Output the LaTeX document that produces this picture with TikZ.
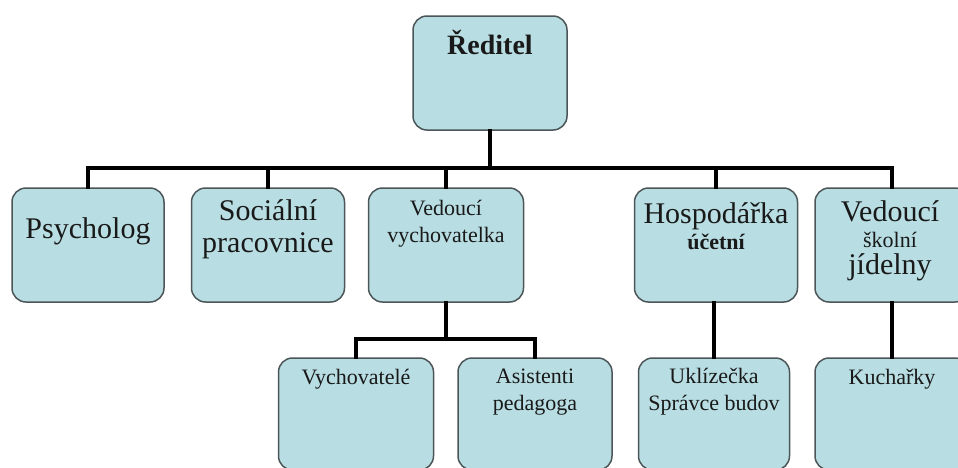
\documentclass[tikz,border=0pt]{standalone}
\usepackage{fontspec}
\setmainfont{Liberation Serif}
\usepackage{tikz}

\newcommand{\bigtxt}{\fontsize{30}{32}\selectfont}
\newcommand{\smalltxt}{\fontsize{22}{27}\selectfont}

\begin{document}
\begin{tikzpicture}[x=1pt, y=-1pt,
        box/.style={draw=boxline, line width=1.5pt, fill=boxfill,
            rounded corners=14pt, inner sep=0pt, minimum height=114pt},
        low/.style={box, minimum height=112pt},
        wire/.style={line width=3.5pt, line cap=rect},
        label/.style={text=black!90, align=center, inner sep=0pt}]
                \definecolor{boxfill}{HTML}{B8DEE3}
                \definecolor{boxline}{HTML}{4C5658}
                \clip (0,0) rectangle (958,467);
                \fill[white] (0,0) rectangle (958,467);

                % boxes
                \node[box, minimum width=154pt] (dir) at (490,73) {};
                \node[box, minimum width=152pt] (psy) at (88,245) {};
                \node[box, minimum width=153pt] (soc) at (268,245) {};
                \node[box, minimum width=155pt] (ved) at (446,245) {};
                \node[box, minimum width=163pt] (hos) at (716,245) {};
                \node[box, minimum width=154pt] (jid) at (892,245) {};

                \node[low, minimum width=155pt] (vych) at (356,414) {};
                \node[low, minimum width=154pt] (asis) at (535,414) {};
                \node[low, minimum width=151pt] (ukl) at (714,414) {};
                \node[low, minimum width=154pt] (kuch) at (892,414) {};

                % texts
                \node[label, font=\fontsize{28}{30}\selectfont\bfseries] (dir-t) at (490,42) {Ředitel};
                \node[label, font=\bigtxt] (psy-t) at (88,231) {Psycholog};
                \node[label, font=\bigtxt] (soc-t) at (268,229) {Sociální\\pracovnice};
                \node[label, font=\smalltxt] (ved-t) at (446,224) {Vedoucí\\vychovatelka};
                \node[label, font=\bigtxt] (hos-t) at (716,226) {Hospodářka\\[-6pt]{\smalltxt\bfseries účetní}};
                \node[label, font=\bigtxt] (jid-t) at (890,241) {Vedoucí\\[-6pt]{\smalltxt školní}\\[-5pt]jídelny};
                \node[label, font=\smalltxt] (vych-t) at (356,379) {Vychovatelé};
                \node[label, font=\smalltxt] (asis-t) at (535,392) {Asistenti\\pedagoga};
                \node[label, font=\smalltxt] (ukl-t) at (714,392) {Uklízečka\\Správce budov};
                \node[label, font=\smalltxt] (kuch-t) at (892,379) {Kuchařky};

                % connectors
                \coordinate (bus) at (490,168);
                \coordinate (sub) at (446,339);
                \draw[wire] (dir.south) -- (bus);
                \draw[wire] (psy.north) -- (psy.north |- bus) -- (jid.north |- bus) -- (jid.north);
                \draw[wire] (soc.north) -- (soc.north |- bus);
                \draw[wire] (ved.north) -- (ved.north |- bus);
                \draw[wire] (hos.north) -- (hos.north |- bus);

                \draw[wire] (ved.south) -- (sub);
                \draw[wire] (vych.north) -- (vych.north |- sub) -- (asis.north |- sub) -- (asis.north);
                \draw[wire] (ukl.north |- hos.south) -- (ukl.north);
                \draw[wire] (jid.south) -- (kuch.north);
            \end{tikzpicture}
\end{document}
